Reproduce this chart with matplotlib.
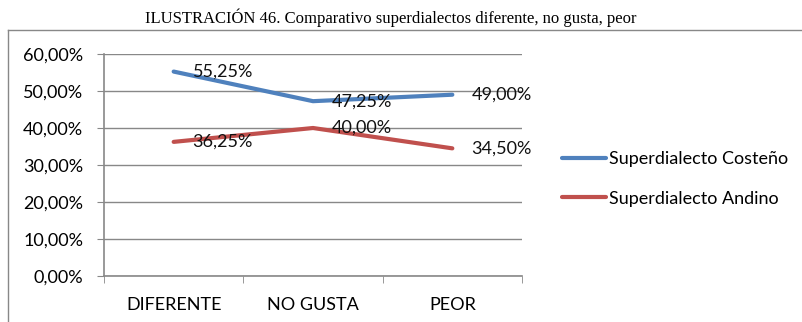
import matplotlib.pyplot as plt
from matplotlib.lines import Line2D

# survey categories and percentage per superdialect
categories = ['DIFERENTE', 'NO GUSTA', 'PEOR']
costeno = [55.25, 47.25, 49.00]
andino = [36.25, 40.00, 34.50]
series_names = ['Superdialecto Costeño', 'Superdialecto Andino']
yticks = [0, 10, 20, 30, 40, 50, 60]

plt.rcParams['font.family'] = ['Lato', 'DejaVu Sans']
grey = '#888888'
fs = 13

fig = plt.figure(figsize=(8.03, 3.22), dpi=100)
ax = fig.add_axes([104 / 803, 46 / 322, 418 / 803, 222 / 322])

x = range(len(categories))
ax.plot(x, costeno, color='#4F81BD', lw=3, solid_capstyle='round', label=series_names[0])
ax.plot(x, andino, color='#C0504D', lw=3, solid_capstyle='round', label=series_names[1])

def pct(v):
    return ('%.2f%%' % v).replace('.', ',')

for vals in (costeno, andino):
    for i, v in enumerate(vals):
        ax.annotate(pct(v), (i, v), xytext=(19, 0), textcoords='offset pixels',
                    ha='left', va='center', fontsize=fs, color='#111111')

ax.set_xlim(-0.5, len(categories) - 0.5)
ax.set_ylim(0, 60)
ax.set_yticks(yticks)
ax.set_yticklabels([pct(t) for t in yticks], fontsize=fs)
ax.set_xticks([i for i in x])
ax.set_xticklabels(categories, fontsize=fs)
ax.set_xticks([-0.5, 0.5, 1.5, 2.5], minor=True)
ax.tick_params(axis='x', which='major', length=0, pad=15)
ax.tick_params(axis='x', which='minor', length=5, color=grey, direction='out')
ax.tick_params(axis='y', length=5, color=grey, pad=10)
ax.grid(axis='y', color=grey, lw=1)
ax.set_axisbelow(True)
for side in ('top', 'right'):
    ax.spines[side].set_visible(False)
for side in ('left', 'bottom'):
    ax.spines[side].set_color(grey)
    ax.spines[side].set_linewidth(1.2)

ax.legend(loc='center left', bbox_to_anchor=(549 / 803, 1 - 179 / 322),
          bbox_transform=fig.transFigure, frameon=False, fontsize=fs,
          handlelength=2.45, handletextpad=0.15, labelspacing=1.28,
          borderpad=0.2)

# chart frame and caption
fig.add_artist(Line2D([8 / 803, 8 / 803], [0, 1 - 30 / 322], color=grey, lw=1))
fig.add_artist(Line2D([8 / 803, 1], [1 - 30 / 322, 1 - 30 / 322], color=grey, lw=1))
fig.text(391 / 803, 1 - 18 / 322,
         'ILUSTRACIÓN 46. Comparativo superdialectos diferente, no gusta, peor',
         ha='center', va='center', fontsize=12, family='Liberation Serif')

fig.savefig('out.png', dpi=100)
